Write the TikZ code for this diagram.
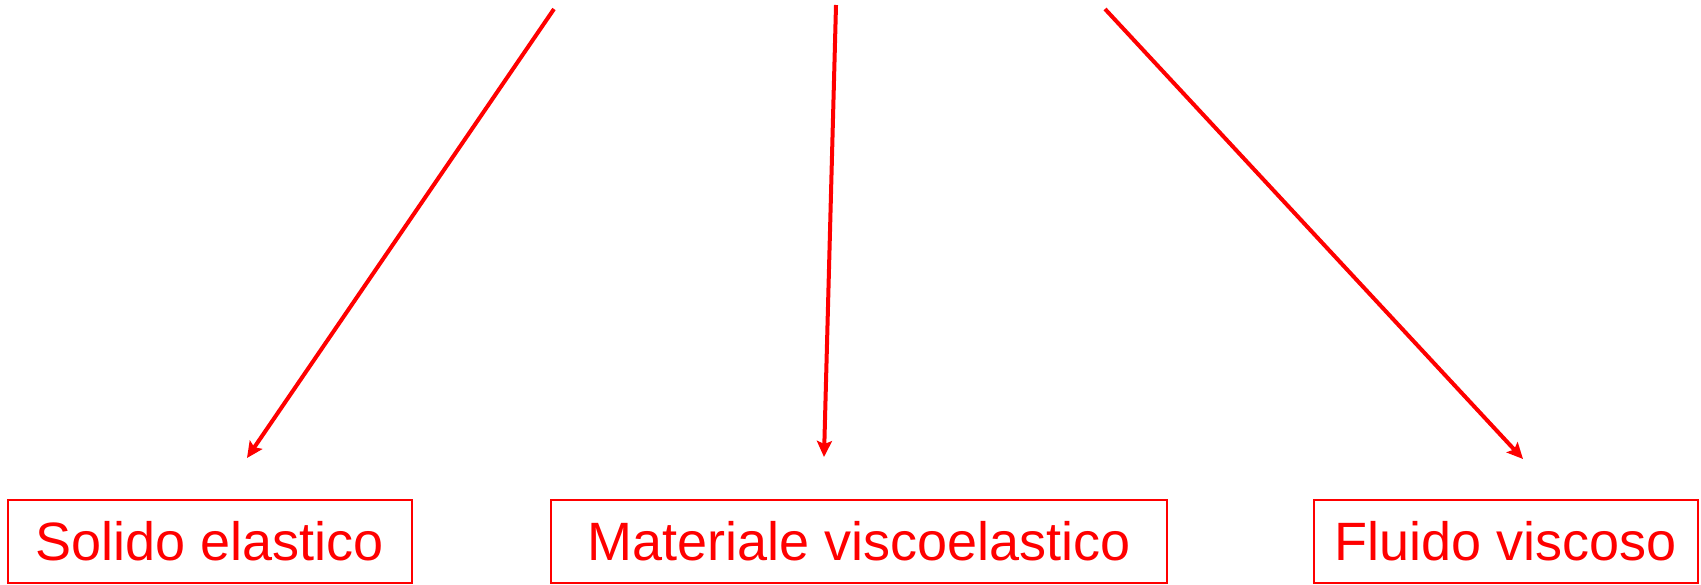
\documentclass[tikz,border=0pt]{standalone}
\usepackage{fontspec}
\setsansfont{Liberation Sans}
\usetikzlibrary{arrows.meta}

\begin{document}
\begin{tikzpicture}[
    x=0.5pt, y=-0.5pt,
    >={Stealth[length=8pt, width=7.5pt, inset=1.5pt]},
    box/.style  ={draw=red, line width=1pt, rectangle, minimum height=41.5pt, inner sep=0pt, text=red, font=\fontsize{27}{30}\selectfont\sffamily},
    flow/.style ={->, draw=red, line width=2pt},
]
\useasboundingbox (0,0) rectangle (1701,584);

% the three kinds of material
\node[box, minimum width=202pt] (solido) at (210,541.5)  {Solido elastico};
\node[box, minimum width=308pt] (visco)  at (859,541.5)  {Materiale viscoelastico};
\node[box, minimum width=192pt] (fluido) at (1506,541.5) {Fluido viscoso};

% free ends of the arrows
\coordinate (from solido) at (554,9);
\coordinate (from visco)  at (836,5);
\coordinate (from fluido) at (1105,9);
\coordinate (to solido)   at (247,458);
\coordinate (to visco)    at (824,457);
\coordinate (to fluido)   at (1523,459);

\draw[flow] (from solido) -- (to solido);
\draw[flow] (from visco)  -- (to visco);
\draw[flow] (from fluido) -- (to fluido);

\end{tikzpicture}
\end{document}
